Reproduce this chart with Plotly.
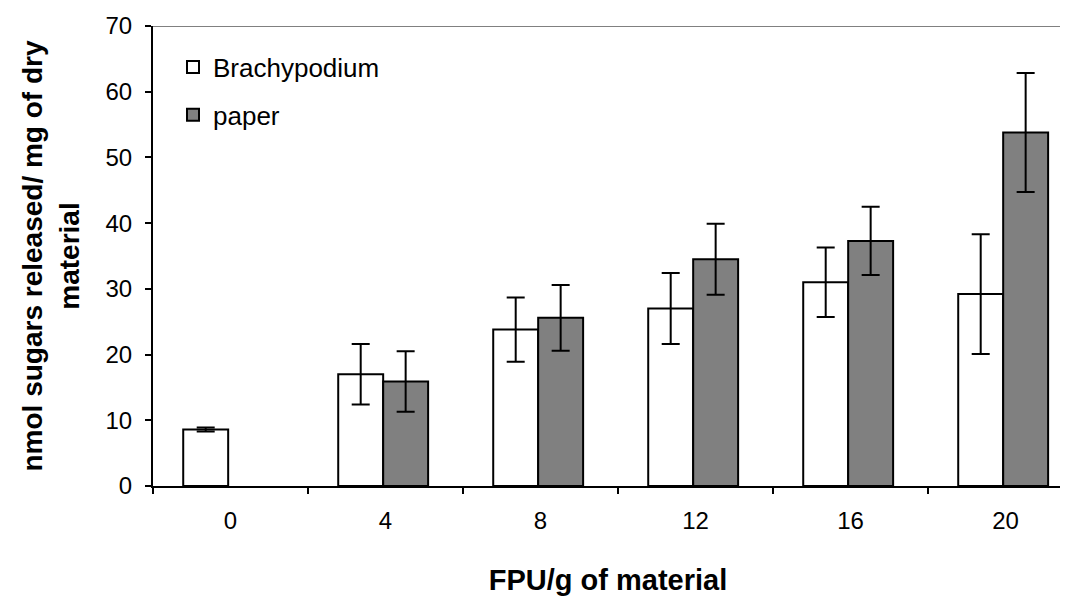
import plotly.graph_objects as go

categories = ["0", "4", "8", "12", "16", "20"]
brachy_vals = [8.6, 17.0, 23.8, 27.0, 31.0, 29.2]
brachy_err = [0.3, 4.6, 4.9, 5.4, 5.3, 9.1]
paper_vals = [None, 15.9, 25.6, 34.5, 37.3, 53.8]
paper_err = [0, 4.6, 5.0, 5.4, 5.2, 9.05]
y_ticks = [0, 10, 20, 30, 40, 50, 60, 70]

FONT = "Liberation Sans, Arial, sans-serif"

fig = go.Figure()
fig.add_trace(go.Bar(
    x=categories, y=brachy_vals, name="Brachypodium",
    width=0.29, offset=-0.305,
    marker=dict(color="white", line=dict(color="black", width=2)),
    error_y=dict(type="data", array=brachy_err, visible=True,
                 color="black", thickness=2, width=9),
    legendgroup="a",
))
fig.add_trace(go.Bar(
    x=categories, y=paper_vals, name="paper",
    width=0.29, offset=-0.015,
    marker=dict(color="#808080", line=dict(color="black", width=2)),
    error_y=dict(type="data", array=paper_err, visible=True,
                 color="black", thickness=2, width=9),
    legendgroup="b",
))

fig.add_shape(type="line", xref="paper", yref="y", x0=0, x1=1, y0=70, y1=70,
              line=dict(color="#808080", width=2))

fig.update_layout(
    width=1060, height=588,
    margin=dict(l=145, r=5, t=18, b=110),
    paper_bgcolor="white", plot_bgcolor="white",
    barmode="overlay",
    font=dict(family=FONT, size=20, color="black"),
    showlegend=True,
    legend=dict(x=0.022, y=0.962, xanchor="left", yanchor="top",
                font=dict(size=26, color="black"),
                bgcolor="rgba(0,0,0,0)", tracegroupgap=11,
                traceorder="grouped"),
    xaxis=dict(
        type="category", range=[-0.5, 5.371], automargin=False,
        tickson="boundaries", ticks="outside", ticklen=6, tickwidth=2,
        tickcolor="black", showline=True, linecolor="black", linewidth=2,
        showgrid=False, tickfont=dict(size=24, color="black"),
        ticklabelstandoff=12,
        title=dict(text="<b>FPU/g of material</b>", font=dict(size=29),
                   standoff=40),
    ),
    yaxis=dict(
        range=[0, 70], tickvals=y_ticks, ticks="outside", ticklen=6,
        tickwidth=2, tickcolor="black", showline=True, linecolor="black",
        linewidth=2, showgrid=False, zeroline=False, automargin=False,
        tickfont=dict(size=24, color="black"), ticklabelstandoff=8,
        title=dict(text="<b>nmol sugars released/ mg of dry<br>material</b>",
                   font=dict(size=28), standoff=18),
    ),
)

fig.write_html("out.html")
